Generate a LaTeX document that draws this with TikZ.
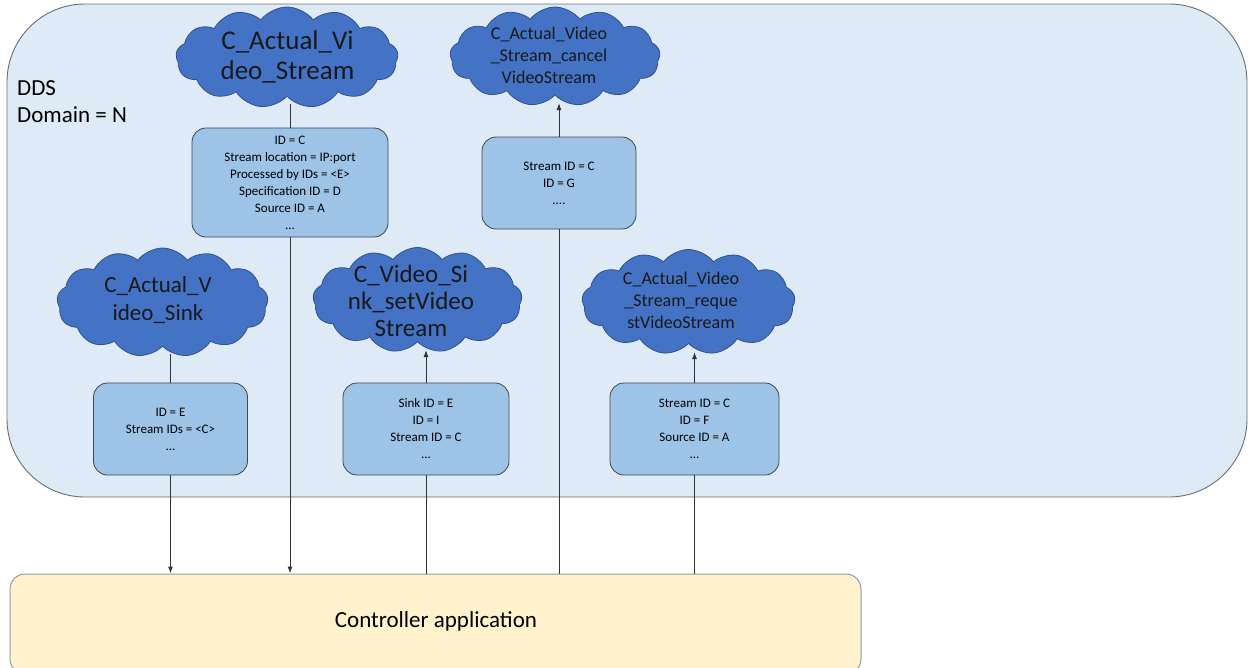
\documentclass[tikz,border=0pt]{standalone}
\usepackage{fontspec}
\setmainfont{Carlito}
\usetikzlibrary{shapes.symbols,arrows.meta}
\definecolor{domfill}{HTML}{DEEBF7}
\definecolor{domdraw}{HTML}{6A6E73}
\definecolor{cloudfill}{HTML}{4472C4}
\definecolor{clouddraw}{HTML}{2F528F}
\definecolor{boxfill}{HTML}{9DC3E6}
\definecolor{boxdraw}{HTML}{41464D}
\definecolor{ctrlfill}{HTML}{FFF2CC}
\definecolor{ctrldraw}{HTML}{8E9BB0}
\definecolor{linec}{HTML}{333333}
\tikzset{
  cloudnode/.style={cloud, cloud puffs=13, cloud puff arc=105, cloud ignores aspect, fill=cloudfill, draw=clouddraw, line width=0.8pt, inner sep=0pt},
  cloudtext/.style={align=center, text=black!90, inner sep=0pt},
  databox/.style={rectangle, rounded corners=14pt, fill=boxfill, draw=boxdraw, line width=0.8pt, align=center, font=\fontsize{13}{17}\selectfont, inner sep=0pt},
  conn/.style={draw=linec, line width=1pt},
  arr/.style={conn, -{Latex[length=7pt,width=5pt]}}
}
\begin{document}
\begin{tikzpicture}[x=1pt,y=-1pt]
\useasboundingbox (0,0) rectangle (1248,667);
% DDS domain
\node[draw=domdraw, fill=domfill, line width=0.9pt, rounded corners=78pt, minimum width=1240pt, minimum height=493pt, inner sep=0pt] (dom) at (627,250.5) {};
\node[anchor=west, align=left, font=\fontsize{23}{27}\selectfont, inner sep=0pt] (domlabel) at (17,101.5) {DDS\\Domain = N};
% controller
\node[draw=ctrldraw, fill=ctrlfill, line width=1pt, rounded corners=15pt, minimum width=851pt, minimum height=100pt, inner sep=0pt] (ctrl) at (435.5,624) {};
\node[font=\fontsize{23}{27}\selectfont] (ctrltext) at (436,621) {Controller application};
% clouds
\node[cloudnode, minimum width=222pt, minimum height=101pt] (c1) at (287,57.5) {};
\node[cloudnode, minimum width=210pt, minimum height=99pt] (c2) at (555,56.5) {};
\node[cloudnode, minimum width=211pt, minimum height=109pt] (c3) at (162.5,302.5) {};
\node[cloudnode, minimum width=209pt, minimum height=105pt] (c4) at (417.5,300) {};
\node[cloudnode, minimum width=213pt, minimum height=105pt] (c5) at (688.5,302) {};
\node[cloudtext, font=\fontsize{27}{30}\selectfont] (c1t) at (287.5,57) {C\_Actual\_Vi\\deo\_Stream};
\node[cloudtext, font=\fontsize{18}{22}\selectfont] (c2t) at (549,55) {C\_Actual\_Video\\\_Stream\_cancel\\VideoStream};
\node[cloudtext, font=\fontsize{23}{28}\selectfont] (c3t) at (158,300) {C\_Actual\_V\\ideo\_Sink};
\node[cloudtext, font=\fontsize{25}{27}\selectfont] (c4t) at (411,301) {C\_Video\_Si\\nk\_setVideo\\Stream};
\node[cloudtext, font=\fontsize{18}{22}\selectfont] (c5t) at (681,300) {C\_Actual\_Video\\\_Stream\_reque\\stVideoStream};
% cloud bottom points
\coordinate (c1b) at (290,104);
\coordinate (c2b) at (559,103);
\coordinate (c3b) at (170.5,354);
\coordinate (c4b) at (426,350);
\coordinate (c5b) at (694.5,352);
% boxes
\node[databox, minimum width=196pt, minimum height=109pt] (b1) at (290,182.5) {ID = C\\Stream location = IP:port\\Processed by IDs = <E>\\Specification ID = D\\Source ID = A\\...};
\node[databox, minimum width=154pt, minimum height=92pt] (b2) at (559,183) {Stream ID = C\\ID = G\\....};
\node[databox, minimum width=154pt, minimum height=92pt] (b3) at (170.5,429) {ID = E\\Stream IDs = <C>\\...};
\node[databox, minimum width=166pt, minimum height=92pt] (b4) at (426,429) {Sink ID = E\\ID = I\\Stream ID = C\\...};
\node[databox, minimum width=169pt, minimum height=92pt] (b5) at (694.5,429) {Stream ID = C\\ID = F\\Source ID = A\\...};
% connectors cloud-box
\draw[conn] (b1.north) -- (c1b);
\draw[conn] (b3.north) -- (c3b);
\draw[arr] (b2.north) -- (c2b);
\draw[arr] (b4.north) -- (c4b);
\draw[arr] (b5.north) -- (c5b);
% connectors box-controller
\draw[arr] (b3.south) -- (b3.south |- ctrl.north);
\draw[arr] (b1.south) -- (b1.south |- ctrl.north);
\draw[conn] (b4.south |- ctrl.north) -- (b4.south);
\draw[conn] (b2.south |- ctrl.north) -- (b2.south);
\draw[conn] (b5.south |- ctrl.north) -- (b5.south);
\end{tikzpicture}
\end{document}
